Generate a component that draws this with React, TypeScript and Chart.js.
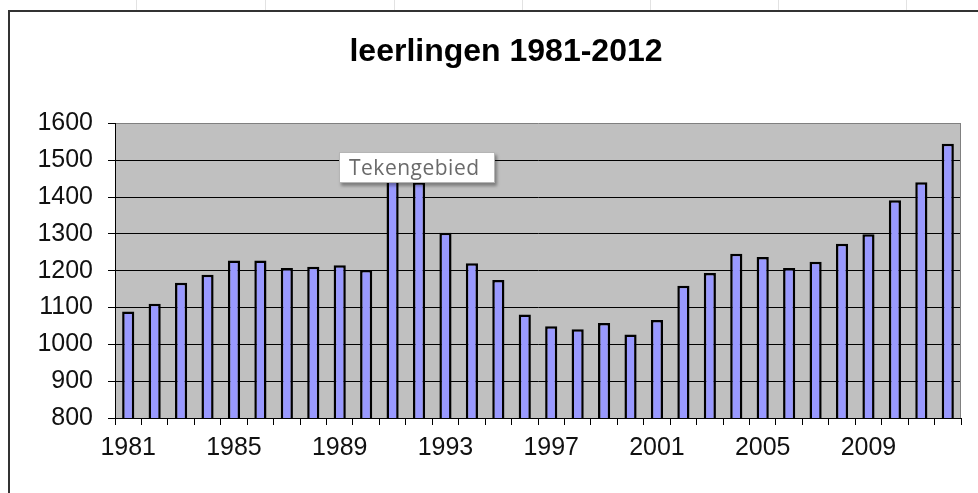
import React, { useEffect, useRef } from "react";
import { Chart, registerables } from "chart.js";

Chart.register(...registerables);

const years: string[] = [
  "1981", "1982", "1983", "1984", "1985", "1986", "1987", "1988",
  "1989", "1990", "1991", "1992", "1993", "1994", "1995", "1996",
  "1997", "1998", "1999", "2000", "2001", "2002", "2003", "2004",
  "2005", "2006", "2007", "2008", "2009", "2010", "2011", "2012",
];

const leerlingen: number[] = [
  1089, 1110, 1167, 1189, 1228, 1228, 1207, 1211,
  1215, 1202, 1450, 1440, 1303, 1220, 1175, 1081,
  1049, 1041, 1058, 1027, 1066, 1159, 1194, 1246,
  1237, 1207, 1224, 1273, 1299, 1391, 1440, 1545,
];

const shownYears: string[] = ["1981", "1985", "1989", "1993", "1997", "2001", "2005", "2009"];

const titleText = "leerlingen 1981-2012";
const tooltipText = "Tekengebied";

const sheetColumnMarks: number[] = [136, 265, 394, 522, 650, 778, 906];

const plotBg = {
  id: "plotBg",
  afterLayout(chart: any) {
    // the Excel chart object extends past the right edge of the view; centre the title on it
    const tb = chart.titleBlock;
    if (tb) {
      tb.left = 0;
      tb.right = chart.width;
      tb.width = chart.width;
    }
  },
  beforeDraw(chart: any) {
    const { ctx, chartArea } = chart;
    ctx.save();
    ctx.fillStyle = "#C0C0C0";
    ctx.fillRect(chartArea.left, chartArea.top, chartArea.right - chartArea.left, chartArea.bottom - chartArea.top);
    ctx.restore();
  },
  afterDraw(chart: any) {
    const { ctx, chartArea } = chart;
    ctx.save();
    ctx.strokeStyle = "#808080";
    ctx.lineWidth = 1;
    ctx.beginPath();
    ctx.moveTo(Math.round(chartArea.right) - 0.5, chartArea.top);
    ctx.lineTo(Math.round(chartArea.right) - 0.5, chartArea.bottom);
    ctx.stroke();
    ctx.restore();
  },
};

const FONT = "'Liberation Sans', Arial, sans-serif";

export default function App() {
  const ref = useRef<HTMLCanvasElement | null>(null);

  useEffect(() => {
    if (!ref.current) return;
    const chart = new Chart(ref.current, {
      type: "bar",
      data: {
        labels: years,
        datasets: [
          {
            data: leerlingen,
            backgroundColor: "#9999FF",
            borderColor: "#000000",
            borderWidth: 2.5,
            borderSkipped: false,
            barPercentage: 0.46,
            categoryPercentage: 1,
          },
        ],
      },
      options: {
        animation: false,
        responsive: false,
        devicePixelRatio: 1,
        layout: { padding: { left: 0, right: 51, top: 0, bottom: 0 } },
        plugins: {
          legend: { display: false },
          tooltip: { enabled: false },
          title: {
            display: true,
            text: titleText,
            color: "#000",
            font: { family: FONT, size: 32, weight: "bold", lineHeight: 1.2 },
            padding: { top: 33, bottom: 52 },
          },
        },
        scales: {
          x: {
            type: "category",
            afterFit(scale: any) {
              scale.height = 75;
            },
            grid: {
              offset: true,
              drawOnChartArea: false,
              drawTicks: true,
              tickLength: 7,
              color: "#000",
            },
            border: { display: true, color: "#000", width: 1 },
            ticks: {
              autoSkip: false,
              maxRotation: 0,
              minRotation: 0,
              padding: 8,
              color: "#111",
              font: { family: FONT, size: 25 },
              callback(this: any, value: any) {
                const lbl = this.getLabelForValue(value);
                return shownYears.includes(lbl) ? lbl : "";
              },
            },
          },
          y: {
            min: 800,
            max: 1600,
            afterFit(scale: any) {
              scale.width = 115;
            },
            grid: {
              drawTicks: true,
              tickLength: 7,
              lineWidth: 1,
              color: (c: any) => (c.tick && c.tick.value === 1600 ? "#808080" : "#000"),
              tickColor: "#000",
            },
            border: { display: true, color: "#000", width: 1 },
            ticks: {
              stepSize: 100,
              padding: 15,
              color: "#111",
              font: { family: FONT, size: 25 },
              callback: (v: any) => String(v),
            },
          },
        },
      },
      plugins: [plotBg],
    });
    return () => chart.destroy();
  }, []);

  return (
    <div
      style={{
        position: "fixed",
        left: 0,
        top: 0,
        width: 978,
        height: 493,
        overflow: "hidden",
        background: "#fff",
      }}
    >
      {sheetColumnMarks.map((x) => (
        <div
          key={x}
          style={{ position: "absolute", left: x, top: 0, width: 1, height: 10, background: "#e2e2e2" }}
        />
      ))}
      <div
        style={{
          position: "absolute",
          left: 8,
          top: 10,
          width: 2000,
          height: 1000,
          borderTop: "2px solid #333",
          borderLeft: "2px solid #333",
        }}
      />
      <canvas
        ref={ref}
        width={1012}
        height={493}
        style={{ position: "absolute", left: 0, top: 0, width: 1012, height: 493 }}
      />
      <div
        style={{
          position: "absolute",
          left: 339,
          top: 152,
          width: 156,
          height: 31,
          boxSizing: "border-box",
          background: "#fff",
          border: "1px solid #b5b5b5",
          boxShadow: "2px 3px 3px rgba(0,0,0,0.35)",
          color: "#6a6a6a",
          fontFamily: "'Open Sans', 'Noto Sans', sans-serif",
          fontSize: 21,
          lineHeight: "29px",
          paddingLeft: 9,
          letterSpacing: 0.5,
          whiteSpace: "nowrap",
        }}
      >
        {tooltipText}
      </div>
    </div>
  );
}
